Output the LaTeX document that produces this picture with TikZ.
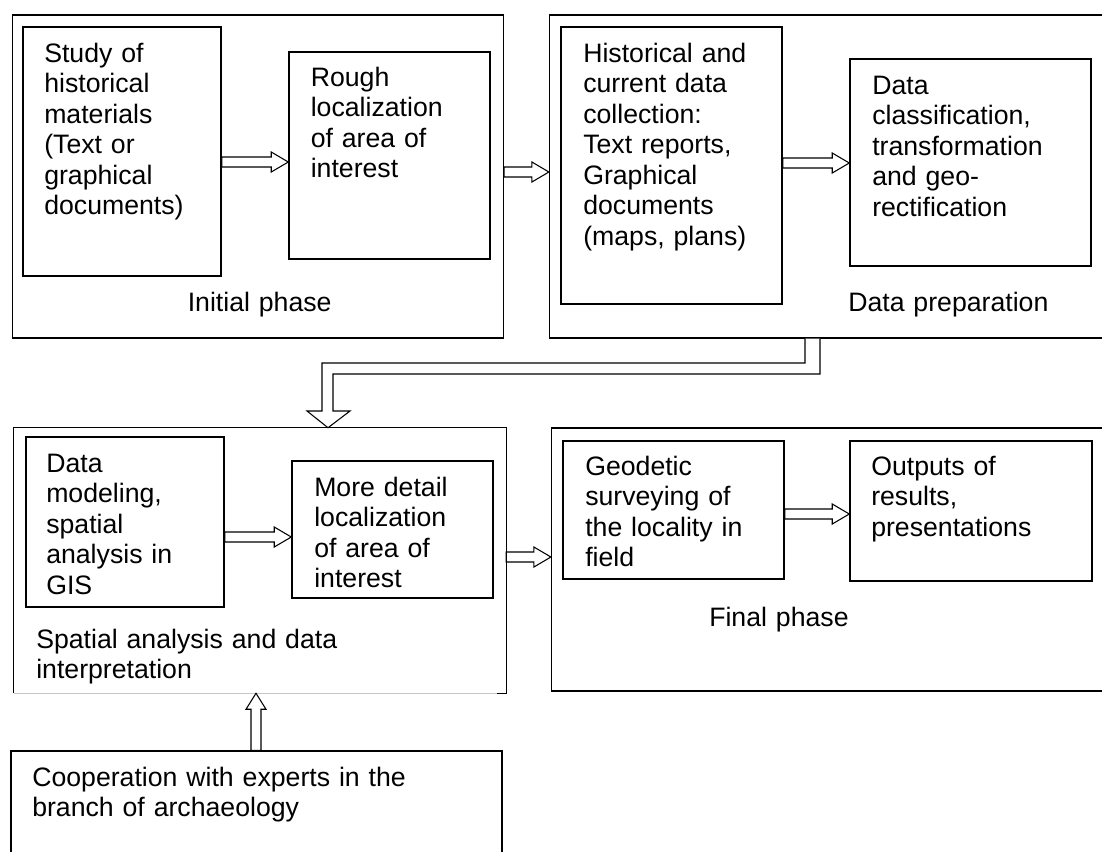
\documentclass[tikz,border=0pt]{standalone}
\usepackage{fontspec}
\setmainfont{Liberation Sans}
\usetikzlibrary{fit,calc}
\tikzset{
  outerbox/.style={draw, line width=0.9pt, inner sep=0pt},
  innerbox/.style={draw, line width=1.1pt, inner sep=0pt},
  txt/.style={anchor=base west, inner sep=0pt, align=left, text width=#1,
    font=\fontsize{20pt}{22.9pt}\selectfont},
  txt/.default=190pt,
  arrowline/.style={line width=0.8pt},
  harr/.style={arrowline, fill=white, to path={let \p1=(\tikztostart), \p2=(\tikztotarget) in
    (\x1,\y1+3.75pt) -- (\x2-12.75pt,\y1+3.75pt) -- (\x2-12.75pt,\y1+7.5pt) -- (\x2,\y1)
    -- (\x2-12.75pt,\y1-7.5pt) -- (\x2-12.75pt,\y1-3.75pt) -- (\x1,\y1-3.75pt) -- cycle}},
  varr/.style={arrowline, fill=white, to path={let \p1=(\tikztostart), \p2=(\tikztotarget) in
    (\x1-3.75pt,\y1) -- (\x1-3.75pt,\y2-12pt) -- (\x1-7.5pt,\y2-12pt) -- (\x1,\y2)
    -- (\x1+7.5pt,\y2-12pt) -- (\x1+3.75pt,\y2-12pt) -- (\x1+3.75pt,\y1) -- cycle}},
}
\begin{document}
\begin{tikzpicture}[x=0.75pt, y=-0.75pt]
\useasboundingbox (0,0) rectangle (1102,851);
\clip (0,0) rectangle (1102,851);

% ---------- Initial phase ----------
\node[outerbox, fit={(12.5,15) (503.5,338)}] (init) {};
\node[innerbox, fit={(23,27) (221,276)}] (study) {};
\node[innerbox, fit={(289,52) (490,259)}] (rough) {};
\node[txt] (studyT) at (44,62) {Study of\\historical\\materials\\(Text or\\graphical\\documents)};
\node[txt] (roughT) at (310.5,86) {Rough\\localization\\of area of\\interest};
\node[txt] (initT) at (187.5,311) {Initial phase};

% ---------- Data preparation ----------
\node[outerbox, fit={(549.5,15) (1130,338)}] (dp) {};
\node[innerbox, fit={(561,27) (782,304)}] (hist) {};
\node[innerbox, fit={(850,59) (1091,266)}] (dc) {};
\node[txt] (histT) at (583,62) {Historical and\\current data\\collection:\\Text reports,\\Graphical\\documents\\(maps, plans)};
\node[txt] (dcT) at (872,94) {Data\\classification,\\transformation\\and geo-\\rectification};
\node[txt] (dpT) at (848,311) {Data preparation};

% ---------- Spatial analysis ----------
\node[fit={(14,428) (506,693)}, inner sep=0pt] (sp) {};
\draw[line width=0.9pt] (sp.south west) -- (sp.north west) -- (sp.north east) -- (sp.south east) -- ++(-9,0);
\draw[gray!45, line width=0.8pt] (sp.south west) -- ($(sp.south east)+(-9,0)$);
\node[innerbox, fit={(26,437) (224,607)}] (dm) {};
\node[innerbox, fit={(292,461) (493,598)}] (md) {};
\node[txt] (dmT) at (46,472) {Data\\modeling,\\spatial\\analysis in\\GIS};
\node[txt] (mdT) at (314,496) {More detail\\localization\\of area of\\interest};
\node[txt=300pt] (spT) at (36,648) {Spatial analysis and data\\interpretation};

% ---------- Final phase ----------
\node[outerbox, fit={(551.5,428) (1130,691)}] (fin) {};
\node[innerbox, fit={(563,441) (784,579)}] (geo) {};
\node[innerbox, fit={(850,441) (1092,581)}] (out) {};
\node[txt] (geoT) at (585,475) {Geodetic\\surveying of\\the locality in\\field};
\node[txt] (outT) at (871,475) {Outputs of\\results,\\presentations};
\node[txt] (finT) at (709,626) {Final phase};

% ---------- Cooperation ----------
\node[outerbox, fit={(11,751) (502,880)}] (coop) {};
\node[txt=400pt] (coopT) at (32,786) {Cooperation with experts in the\\branch of archaeology};

% ---------- connectors ----------
\coordinate (r1) at (0,162);
\coordinate (r2) at (0,172);
\coordinate (r3) at (0,163);
\coordinate (r4) at (0,537);
\coordinate (r5) at (0,557);
\coordinate (r6) at (0,514);
\coordinate (c1) at (256,0);
\draw[harr] (study.east |- r1) to (rough.west |- r1);
\draw[harr] (init.east |- r2) to (dp.west |- r2);
\draw[harr] (hist.east |- r3) to (dc.west |- r3);
\draw[harr] (dm.east |- r4) to (md.west |- r4);
\draw[harr] (sp.east |- r5) to (fin.west |- r5);
\draw[harr] (geo.east |- r6) to (out.west |- r6);
\draw[varr] (coop.north -| c1) to (sp.south -| c1);

% bent arrow from Data preparation to Spatial analysis
\coordinate (bA) at (805,0);
\coordinate (bB) at (820,0);
\coordinate (bT) at (328,0);
\draw[arrowline, fill=white] (dp.south -| bA) -- (805,363) -- (322,363) -- (322,411) -- (307,411)
  -- (sp.north -| bT) -- (350,411) -- (333,411) -- (333,374) -- (820,374) -- (dp.south -| bB);
\end{tikzpicture}
\end{document}
